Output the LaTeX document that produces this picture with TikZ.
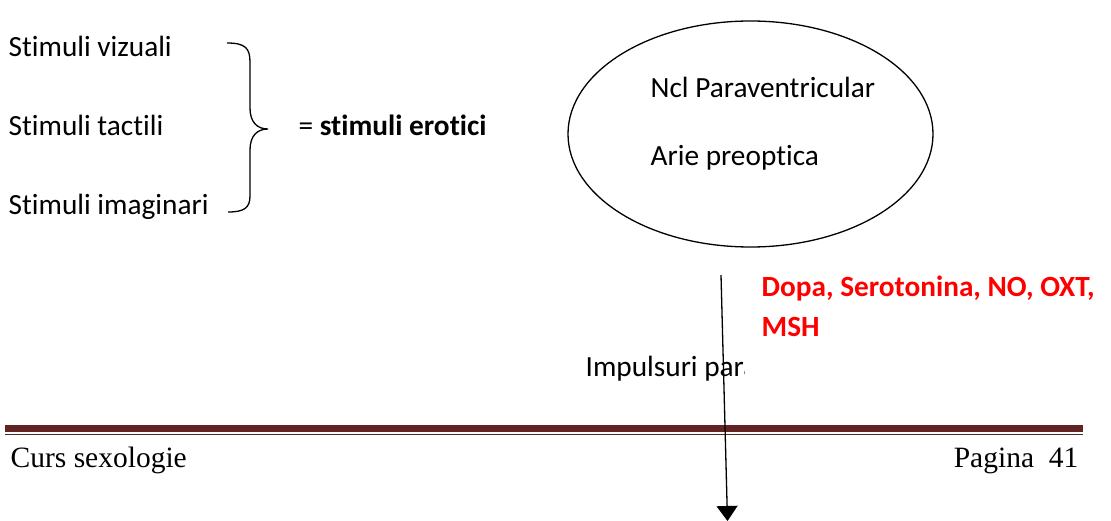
\documentclass[tikz,border=0pt]{standalone}
\usepackage{fontspec}
\usepackage{xcolor}
\setmainfont{Carlito}[Ligatures=NoCommon]
\newfontfamily\footfont{Liberation Serif}
\usepackage{tikz}
\usetikzlibrary{shapes.geometric,arrows.meta,positioning,calc}
\definecolor{footred}{HTML}{622423}
\definecolor{hormred}{HTML}{FF0000}
\tikzset{
    txt/.style={anchor=base west, inner sep=0pt, font=\fontsize{29.3}{35}\selectfont},
    foot/.style={anchor=base west, inner sep=0pt, font=\fontsize{29.5}{35}\selectfont\footfont},
}
\begin{document}
\begin{tikzpicture}[x=1pt, y=-1pt, line width=1.3pt]
    \useasboundingbox (0,0) rectangle (1111,521);

    % Stimuli
    \node[txt] (viz) at (8,57) {Stimuli vizuali};
    \node[txt] (tac) at (8,136) {Stimuli tactili};
    \node[txt] (ima) at (8,215) {Stimuli imaginari};

    % Brace
    \coordinate (BrTop) at (227,43);
    \coordinate (BrTip) at (268,129);
    \coordinate (BrBot) at (228,212);
    \draw (BrTop) .. controls (245,43) and (250,48) .. (250,62) -- (250,108)
          .. controls (250,122) and (257,129) .. (BrTip)
          .. controls (257,129) and (250,136) .. (250,150) -- (250,196)
          .. controls (250,208) and (244,212) .. (BrBot);
    \node[txt] (ero) at (298,136) {= \textbf{stimuli erotici}};

    % Hypothalamus
    \node[draw, ellipse, minimum width=365pt, minimum height=226pt, inner sep=0pt] (hypo) at (750.5,134) {};
    \node[txt] (ncl) at (650,98) {Ncl Paraventricular};
    \node[txt] (arie) at (650,166) {Arie preoptica};

    % Mediators
    \node[txt, font=\fontsize{29.3}{35}\selectfont\bfseries, text=hormred] (dopa) at (761,297) {Dopa, Serotonina, NO, OXT,};
    \node[txt, font=\fontsize{29.3}{35}\selectfont\bfseries, text=hormred] (msh) at (761,337) {MSH};
    \begin{scope}
        \clip (0,330) rectangle (744,400);
        \node[txt] (imp) at (585,376) {Impulsuri para};
    \end{scope}

    % Footer
    \coordinate (LnL) at (5,428.5);
    \coordinate (LnR) at (1083,428.5);
    \draw[footred, line width=7pt] (LnL) -- (LnR);
    \draw[footred, line width=1.8pt] ($(LnL)+(0,6)$) -- ($(LnR)+(0,6)$);
    \node[foot] (curs) at (10,467) {Curs sexologie};
    \node[foot, anchor=base east] (pag) at (1079,467) {Pagina\ \ 41};

    % Arrow
    \coordinate (ArS) at (721,275);
    \coordinate (ArE) at (727.5,521);
    \draw[-{Triangle[length=15pt, width=21pt]}] (ArS) -- (ArE);
\end{tikzpicture}
\end{document}
